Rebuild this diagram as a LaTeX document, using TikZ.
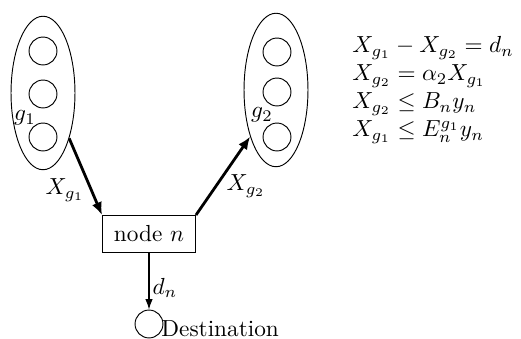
\documentclass[tikz,border=0pt]{standalone}
\usetikzlibrary{shapes.geometric,arrows.meta}
\begin{document}
\begin{tikzpicture}[x=0.43pt,y=-0.43pt,
  group/.style={draw,ellipse,minimum width=27.5pt,minimum height=66pt,inner sep=0pt},
  unit/.style={draw,circle,minimum size=12pt,inner sep=0pt},
  box/.style={draw,rectangle,minimum width=40pt,minimum height=15.9pt,inner sep=0pt},
  flow/.style={line width=1.2pt,-{Latex[length=5.5pt,width=4.5pt]}},
  demand/.style={line width=0.5pt,-{Latex[length=4.5pt,width=3.2pt]}}]
\useasboundingbox (0,0) rectangle (521,339);
% left group
\node[group] (e1) at (43,93) {};
\node[unit] (u11) at (43,51) {};
\node[unit] (u12) at (43,94) {};
\node[unit] (u13) at (43,137) {};
\node (g1) at (25,118) {$g_1$};
% right group
\node[group] (e2) at (276,90) {};
\node[unit] (u21) at (277,52) {};
\node[unit] (u22) at (277,92) {};
\node[unit] (u23) at (277,137) {};
\node (g2) at (262,115) {$g_2$};
% node n
\node[box] (n) at (149,234) {node $n$};
% destination
\node[unit] (dest) at (149,324) {};
\node[anchor=base west,inner sep=0pt] (destlab) at (161,337) {Destination};
% arrows
\draw[flow] (e1.-60) -- (n.north west);
\draw[flow] (n.north east) -- (e2.-119);
\draw[demand] (n.south) -- (dest.north);
\node (lx1) at (65,190) {$X_{g_1}$};
\node (lx2) at (246,186) {$X_{g_2}$};
\node (ldn) at (165,288) {$d_n$};
% equations
\node[anchor=base west,inner sep=0pt] (eq1) at (352,53) {$X_{g_1}-X_{g_2}=d_n$};
\node[anchor=base west,inner sep=0pt] (eq2) at (352,81) {$X_{g_2}=\alpha_2X_{g_1}$};
\node[anchor=base west,inner sep=0pt] (eq3) at (352,109) {$X_{g_2}\leq B_ny_n$};
\node[anchor=base west,inner sep=0pt] (eq4) at (352,137) {$X_{g_1}\leq E_n^{g_1}y_n$};
\end{tikzpicture}
\end{document}
